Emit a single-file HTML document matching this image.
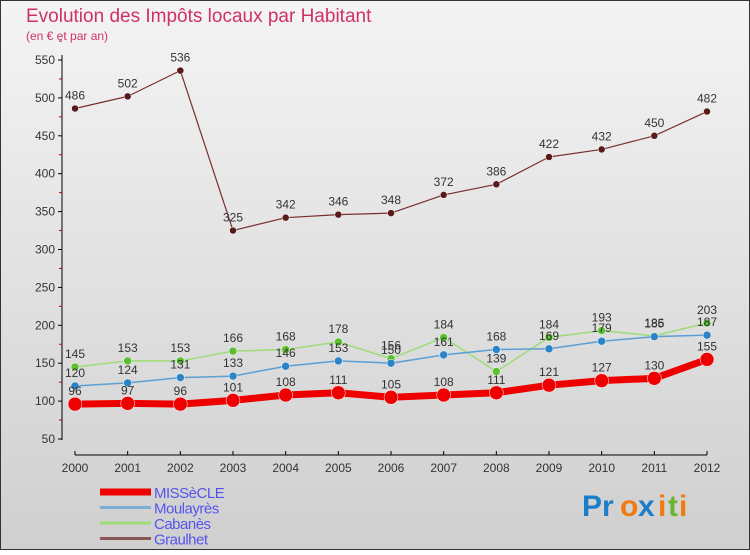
<!DOCTYPE html>
<html><head><meta charset="utf-8"><style>
body{margin:0;width:750px;height:550px;overflow:hidden;font-family:"Liberation Sans",sans-serif}
</style></head><body>
<svg width="750" height="550" xmlns="http://www.w3.org/2000/svg">
<defs><linearGradient id="bg" x1="0" y1="0" x2="0" y2="1"><stop offset="0" stop-color="#f4f4f4"/><stop offset="1" stop-color="#cfcfcf"/></linearGradient></defs>
<rect x="0.5" y="0.5" width="749" height="549" fill="url(#bg)" stroke="#333"/>
<text x="26" y="22" font-size="19" fill="#d0306a">Evolution des Impôts locaux par Habitant</text>
<text x="26" y="40" font-size="12" fill="#d0306a">(en € et par an)</text>
<g id="axes"></g><g id="series"></g><g id="legend"></g>
<g font-size="30" font-weight="bold" font-family="'Liberation Sans',sans-serif">
<text x="582" y="516" fill="#1a7fc8">Pr</text><text x="620" y="516" fill="#f07a10">o</text><text x="638" y="516" fill="#1a7fc8">x</text><text x="658" y="516" fill="#f07a10">i</text><text x="668" y="516" fill="#6cb530">t</text><text x="679" y="516" fill="#f07a10">i</text>
</g>
</svg>
<script>
const years=[2000,2001,2002,2003,2004,2005,2006,2007,2008,2009,2010,2011,2012];
const yTicks=[50,100,150,200,250,300,350,400,450,500,550];
const missecle=[96,97,96,101,108,111,105,108,111,121,127,130,155];
const moulayres=[120,124,131,133,146,153,150,161,168,169,179,185,187];
const cabanes=[145,153,153,166,168,178,156,184,139,184,193,186,203];
const graulhet=[486,502,536,325,342,346,348,372,386,422,432,450,482];
const NS="http://www.w3.org/2000/svg";
const X=i=>75+i*(707-75)/12;
const Y=v=>439-(v-50)*(439-60)/500;
function mk(t,a,p){const e=document.createElementNS(NS,t);for(const k in a)e.setAttribute(k,a[k]);p.appendChild(e);return e;}
const ax=document.getElementById('axes');
let l=mk('line',{x1:62,y1:55,x2:62,y2:440,stroke:'#000'},ax);

yTicks.forEach(v=>{mk('line',{x1:58,y1:Y(v),x2:62,y2:Y(v),stroke:'#000'},ax);
mk('line',{x1:59,y1:Y(v+25),x2:62,y2:Y(v+25),stroke:'#c00'},ax);
const t=mk('text',{x:55,y:Y(v)+4,'text-anchor':'end','font-size':12,fill:'#333'},ax);t.textContent=v;
});
l=mk('line',{x1:75,y1:455,x2:707,y2:455,stroke:'#000'},ax);

years.forEach((y,i)=>{mk('line',{x1:X(i),y1:451,x2:X(i),y2:455,stroke:'#000'},ax);
const t=mk('text',{x:X(i),y:472,'text-anchor':'middle','font-size':12,fill:'#333'},ax);t.textContent=y;
});
const sg=document.getElementById('series');
function series(d,col,w,r,dot,name){
const g=mk('g',{},sg);
const p=mk('polyline',{points:d.map((v,i)=>X(i)+','+Y(v)).join(' '),fill:'none',stroke:col,'stroke-width':w,'stroke-linejoin':'round'},g);

d.forEach((v,i)=>{const c=mk('circle',{cx:X(i),cy:Y(v),r:r,fill:dot,stroke:'#fff','stroke-width':0.5},g);

const t=mk('text',{x:X(i),y:Y(v)-9,'text-anchor':'middle','font-size':12,fill:'#333'},g);t.textContent=v;
});}
series(graulhet,'#7a2e2e',1.2,3.5,'#5a1a1a','graulhet');
series(cabanes,'#9ddc78',1.5,4,'#5cc030','cabanes');
series(moulayres,'#5a9fd4',1.5,4,'#2a85c8','moulayres');
series(missecle,'#ee0000',7,7,'#ee0000','missecle');
const lg=document.getElementById('legend');
[['MISSèCLE','#ee0000',7],['Moulayrès','#7aaed4',3],['Cabanès','#9ddc78',3],['Graulhet','#8a5555',3]].forEach((s,i)=>{
const y=492+i*15.5;
const g=mk('g',{},lg);
mk('line',{x1:100,y1:y,x2:151,y2:y,stroke:s[1],'stroke-width':s[2]},g);
const t=mk('text',{x:154,y:y+6,'font-size':15,fill:'#5555ee','letter-spacing':'-0.5'},g);t.textContent=s[0];});
</script>
</body></html>
